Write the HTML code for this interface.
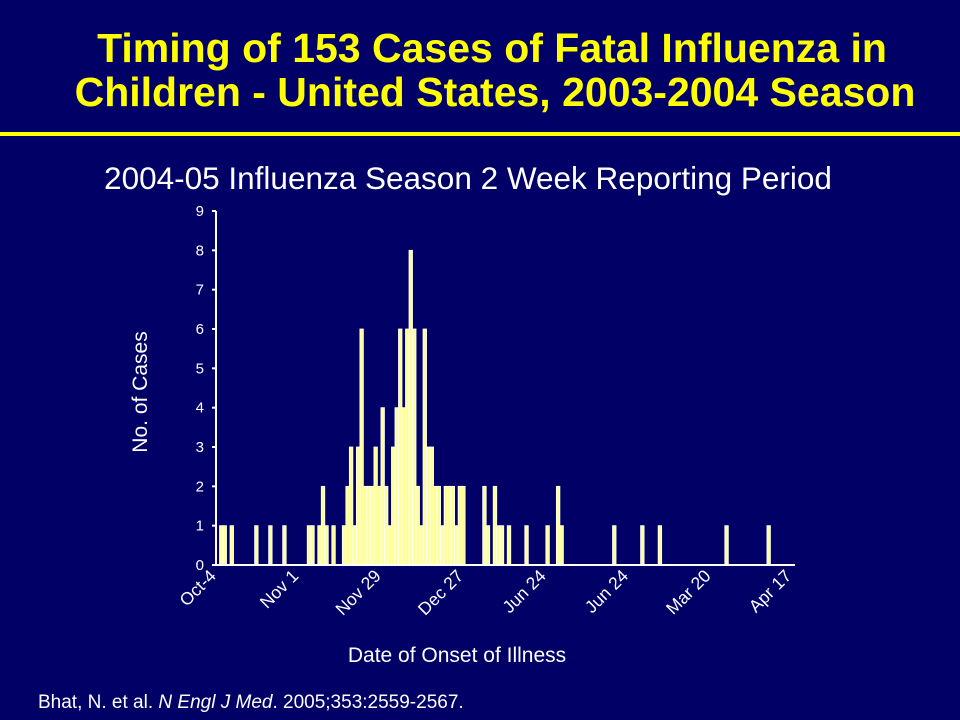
<!DOCTYPE html>
<html><head><meta charset="utf-8"><style>
html,body{margin:0;padding:0;background:#000066;}
svg{display:block;font-family:"Liberation Sans",Arial,sans-serif;}
</style></head><body>
<svg width="960" height="720" viewBox="0 0 960 720">
<rect x="0" y="0" width="960" height="720" fill="#000066"/>
<text x="492" y="62" text-anchor="middle" fill="#ffff00" font-size="41" font-weight="bold">Timing of 153 Cases of Fatal Influenza in</text>
<text x="495" y="106" text-anchor="middle" fill="#ffff00" font-size="41" font-weight="bold">Children - United States, 2003-2004 Season</text>
<rect x="0" y="132" width="960" height="4" fill="#ffff00"/>
<text x="468" y="189" text-anchor="middle" fill="#ffffff" font-size="31.5">2004-05 Influenza Season 2 Week Reporting Period</text>
<g id="bars"></g>
<g id="axes"></g>
<text transform="translate(147,392) rotate(-90)" text-anchor="middle" fill="#ffffff" font-size="21">No. of Cases</text>
<text x="457" y="662" text-anchor="middle" fill="#ffffff" font-size="21">Date of Onset of Illness</text>
<text x="38" y="708" fill="#ffffff" font-size="19">Bhat, N. et al. <tspan font-style="italic">N Engl J Med</tspan>. 2005;353:2559-2567.</text>
</svg>
<script>
const days = [1,2,4,11,15,19,26,27,29,30,31,33,36,37,38,39,40,41,42,43,44,45,46,47,48,49,50,51,52,53,54,55,56,57,58,59,60,61,62,63,64,65,66,67,68,69,70,76,77,79,80,81,83,88,94,97,98,113,121,126,145,157];
const counts = [1,1,1,1,1,1,1,1,1,2,1,1,1,2,3,1,3,6,2,2,2,3,2,4,2,1,3,4,6,4,6,8,6,2,1,6,3,3,2,2,1,2,2,2,1,2,2,2,1,2,1,1,1,1,1,2,1,1,1,1,1,1];
const yTicks = [0,1,2,3,4,5,6,7,8,9];
const xLabels = ["Oct-4","Nov 1","Nov 29","Dec 27","Jun 24","Jun 24","Mar 20","Apr 17"];
const xLabelDays = [0,23.5,47,70.5,94,117.5,141,164];
const NS="http://www.w3.org/2000/svg";
const X0=216,X1=795,Y0=565,Y1=211,DMAX=165,YMAX=9;
const bw=(X1-X0)/DMAX;
function xs(d){return X0+d*bw;}
function ys(v){return Y0-(v/YMAX)*(Y0-Y1);}
const bars=document.getElementById('bars');
days.forEach((d,i)=>{
  const r=document.createElementNS(NS,'rect');
  r.setAttribute('x',xs(d)); r.setAttribute('y',ys(counts[i]));
  r.setAttribute('width',bw); r.setAttribute('height',Y0-ys(counts[i]));
  r.setAttribute('fill','#ffff99'); r.setAttribute('stroke','#ffffff'); r.setAttribute('stroke-width','0.8');
  
  
  bars.appendChild(r);
});
const axes=document.getElementById('axes');
function line(x1,y1,x2,y2,name){
  const l=document.createElementNS(NS,'line');
  l.setAttribute('x1',x1);l.setAttribute('y1',y1);l.setAttribute('x2',x2);l.setAttribute('y2',y2);
  l.setAttribute('stroke','#ffffff');l.setAttribute('stroke-width','2');
  
  
  axes.appendChild(l);
}
line(X0,Y1,X0,Y0+1,'y-axis-line');
line(X0,Y0,X1,Y0,'x-axis-line');
yTicks.forEach(v=>{
  line(X0-4,ys(v),X0,ys(v),'y-tick');
  const t=document.createElementNS(NS,'text');
  t.setAttribute('x',X0-12);t.setAttribute('y',ys(v)+5);
  t.setAttribute('text-anchor','end');t.setAttribute('fill','#ffffff');t.setAttribute('font-size','15');
  t.textContent=v;
  
  
  axes.appendChild(t);
});
xLabels.forEach((lab,i)=>{
  const x=xs(xLabelDays[i]);
  const t=document.createElementNS(NS,'text');
  t.setAttribute('transform','translate('+(x+1)+','+(Y0+12)+') rotate(-45)');
  t.setAttribute('text-anchor','end');t.setAttribute('fill','#ffffff');t.setAttribute('font-size','17.5');
  t.textContent=lab;
  
  
  axes.appendChild(t);
});
</script>
</body></html>
